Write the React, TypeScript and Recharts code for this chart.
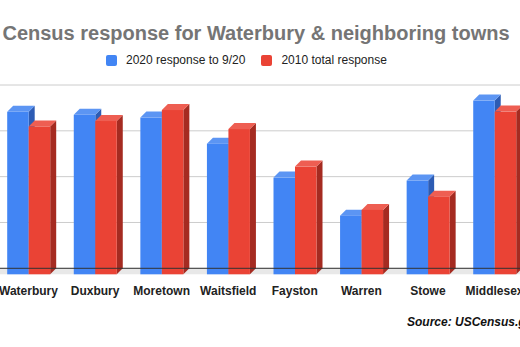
import React from "react";
import { BarChart, Bar, XAxis, YAxis, CartesianGrid, ReferenceArea } from "recharts";

const towns = ["Waterbury", "Duxbury", "Moretown", "Waitsfield", "Fayston", "Warren", "Stowe", "Middlesex"];
const response2020 = [70.9, 69.6, 68.4, 57.0, 42.2, 25.6, 40.9, 75.8];
const response2010 = [64.5, 66.9, 71.7, 63.4, 47.0, 28.1, 33.9, 71.0];
const yTicks = [0, 20, 40, 60, 80];

const data = towns.map((town, i) => ({
  town,
  r2020: response2020[i],
  r2010: response2010[i],
}));

const FONT = "'Liberation Sans', Arial, sans-serif";
const DEPTH = 6;

// fake 3D box: front face + top + right side
const makeBox = (front: string, top: string, side: string) => (props: any) => {
  const { x, y, width, height } = props;
  if (!height || height <= 0) return <g />;
  const d = DEPTH;
  const fy = y + d;
  const by = y + height + d;
  return (
    <g>
      <polygon
        points={`${x + width},${fy} ${x + width + d},${y} ${x + width + d},${y + height} ${x + width},${by}`}
        fill={side}
      />
      <polygon
        points={`${x},${fy} ${x + d},${y} ${x + width + d},${y} ${x + width},${fy}`}
        fill={top}
      />
      <rect x={x} y={fy} width={width} height={height} fill={front} />
    </g>
  );
};

const BlueBox = makeBox("#4285f4", "#5c95f3", "#2d5cb4");
const RedBox = makeBox("#ea4335", "#ee5e52", "#a52b21");

const legendItems = [
  { label: "2020 response to 9/20", color: "#4285f4" },
  { label: "2010 total response", color: "#ea4335" },
];

export default function App() {
  return (
    <div
      style={{
        position: "absolute",
        left: 0,
        top: 0,
        width: 520,
        height: 347,
        overflow: "hidden",
        background: "#fff",
        fontFamily: FONT,
      }}
    >
      <div
        style={{
          position: "absolute",
          top: 23,
          left: -100,
          width: 712,
          textAlign: "center",
          fontSize: 20,
          lineHeight: "20px",
          fontWeight: "bold",
          color: "#757575",
          whiteSpace: "nowrap",
        }}
      >
        Census response for Waterbury &amp; neighboring towns
      </div>

      <div
        style={{
          position: "absolute",
          top: 54,
          left: 106,
          display: "flex",
          alignItems: "center",
          fontSize: 12,
          lineHeight: "12px",
          color: "#222",
          whiteSpace: "nowrap",
        }}
      >
        {legendItems.map((item, i) => (
          <div key={item.label} style={{ display: "flex", alignItems: "center", marginRight: i === 0 ? 16 : 0 }}>
            <div
              style={{
                width: 11,
                height: 11,
                borderRadius: 2,
                background: item.color,
                marginRight: 9,
              }}
            />
            <span>{item.label}</span>
          </div>
        ))}
      </div>

      <div style={{ position: "absolute", left: -20, top: 0 }}>
        <BarChart
          width={560}
          height={347}
          data={data}
          margin={{ top: 85, left: 15.2, right: 12.2, bottom: 48.7 }}
          barGap={0}
          barSize={21.5}
        >
          <CartesianGrid vertical={false} stroke="#cccccc" />
          <ReferenceArea y1={-2.62} y2={0} ifOverflow="visible" fill="#e8e8e8" fillOpacity={1} stroke="none" />
          <YAxis hide domain={[0, 80]} ticks={yTicks} />
          <XAxis
            dataKey="town"
            height={30}
            tickLine={false}
            tickSize={0}
            tickMargin={18}
            axisLine={{ stroke: "#333333" }}
            tick={{ fontSize: 12, fontWeight: "bold", fill: "#222", fontFamily: FONT }}
            interval={0}
          />
          <Bar dataKey="r2020" isAnimationActive={false} shape={BlueBox} />
          <Bar dataKey="r2010" isAnimationActive={false} shape={RedBox} />
        </BarChart>
      </div>

      <div
        style={{
          position: "absolute",
          top: 316,
          left: 407,
          fontSize: 12,
          lineHeight: "12px",
          fontWeight: "bold",
          fontStyle: "italic",
          color: "#111",
          whiteSpace: "nowrap",
        }}
      >
        Source: USCensus.gov
      </div>
    </div>
  );
}
